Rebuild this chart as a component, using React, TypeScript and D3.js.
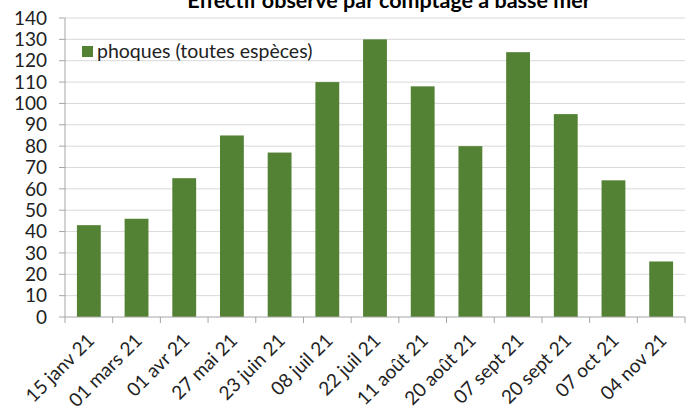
import React from "react";
import * as d3 from "d3";

const categories = ["15 janv 21","01 mars 21","01 avr 21","27 mai 21","23 juin 21","08 juil 21","22 juil 21","11 août 21","20 août 21","07 sept 21","20 sept 21","07 oct 21","04 nov 21"];
const values = [43, 46, 65, 85, 77, 110, 130, 108, 80, 124, 95, 64, 26];
const yTicks = [0,10,20,30,40,50,60,70,80,90,100,110,120,130,140];
const seriesName = "phoques (toutes espèces)";
const title = "Effectif observé par comptage à basse mer";

const W = 692, H = 407;
const left = 65, right = 685, top = 18, bottom = 317;
const font = "Lato, 'Open Sans', sans-serif";

export default function App() {
  const x = d3.scaleBand<string>().domain(categories).range([left, right]).paddingInner(0.5).paddingOuter(0.25);
  const band = d3.scaleBand<string>().domain(categories).range([left, right]);
  const y = d3.scaleLinear().domain([0, 140]).range([bottom, top]);
  return (
    <svg width={W} height={H} style={{ position: "absolute", left: 0, top: 0, background: "#fff" }}>
      <text x={389} y={8} textAnchor="middle" fontFamily={font} fontWeight="bold" fontSize={21.5} fill="#000">{title}</text>
      {yTicks.map(t => (
        <g key={t}>
          {t > 0 && <line x1={left} x2={right} y1={y(t)} y2={y(t)} stroke="#d9d9d9" strokeWidth={1} />}
          <line x1={left - 6} x2={left} y1={y(t)} y2={y(t)} stroke="#a6a6a6" />
          <text x={left - 18} y={y(t)} dy="0.35em" textAnchor="end" fontFamily={font} fontSize={19} fill="#222">{t}</text>
        </g>
      ))}
      {categories.map((c, i) => (
        <rect key={c} x={x(c)} y={y(values[i])} width={x.bandwidth()} height={y(0) - y(values[i])} fill="#548235" />
      ))}
      <line x1={left} x2={left} y1={top} y2={bottom} stroke="#a6a6a6" />
      <line x1={left} x2={right} y1={bottom} y2={bottom} stroke="#a6a6a6" />
      {[...categories.map(c => band(c) as number), right].map((p, i) => (
        <line key={i} x1={p} x2={p} y1={bottom} y2={bottom + 6} stroke="#a6a6a6" />
      ))}
      {categories.map(c => {
        const cx = (band(c) as number) + band.bandwidth() / 2 + 2;
        const cy = bottom + 20;
        return (
          <text key={c} x={cx} y={cy} textAnchor="end" dy="0.35em" transform={`rotate(-45 ${cx} ${cy})`} fontFamily={font} fontSize={19} fill="#222">{c}</text>
        );
      })}
      <rect x={82} y={46} width={11} height={11} fill="#548235" />
      <text x={97} y={58} fontFamily={font} fontSize={19.5} fill="#222">{seriesName}</text>
    </svg>
  );
}
